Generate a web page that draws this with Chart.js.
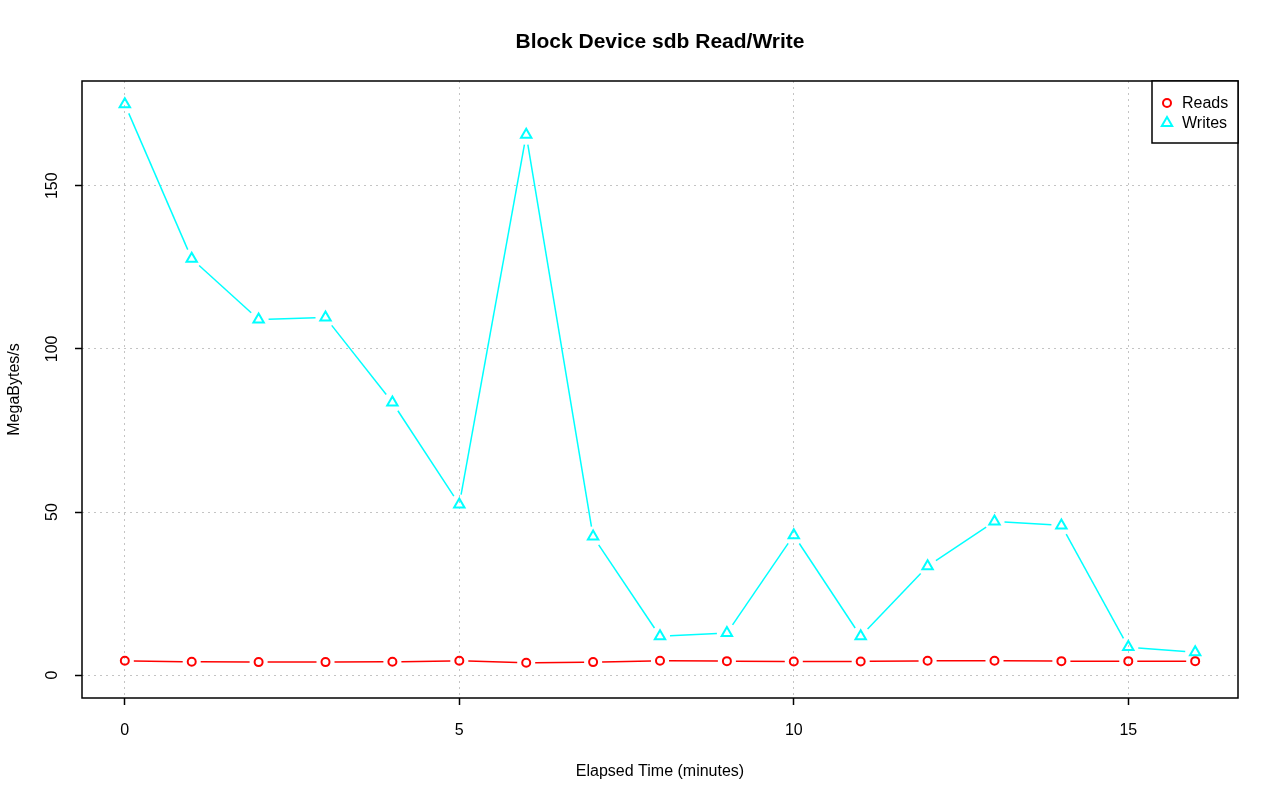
<!DOCTYPE html>
<html>
<head>
<meta charset="utf-8">
<title>Block Device sdb Read/Write</title>
<script src="https://cdn.jsdelivr.net/npm/chart.js@4/dist/chart.umd.min.js"></script>
<style>
    html, body { margin: 0; padding: 0; background: #fff; }
    #wrap { width: 1280px; height: 801px; }
</style>
</head>
<body>
<div id="wrap"><canvas id="ioChart"></canvas></div>
<script>
// elapsed minutes and MB/s
const minutes = [0, 1, 2, 3, 4, 5, 6, 7, 8, 9, 10, 11, 12, 13, 14, 15, 16];
const reads = [4.4, 4.1, 4.0, 4.0, 4.1, 4.4, 3.8, 4.0, 4.4, 4.3, 4.2, 4.2, 4.4, 4.4, 4.3, 4.3, 4.3];
const writes = [175.0, 127.6, 109.0, 109.6, 83.6, 52.3, 165.6, 42.5, 11.9, 12.9, 42.9, 11.9, 33.4, 47.1, 45.9, 8.6, 7.0];
const xTicks = [0, 5, 10, 15];
const yTicks = [0, 50, 100, 150];
const chartTitle = 'Block Device sdb Read/Write';

const FONT = "'Liberation Sans', Arial, Helvetica, sans-serif";

// R type="b": leave a gap in each segment next to the markers
function gapDash(ctx, gap) {
    const dx = ctx.p1.x - ctx.p0.x;
    const dy = ctx.p1.y - ctx.p0.y;
    const len = Math.sqrt(dx * dx + dy * dy);
    if (len <= gap * 2) return [0, len];
    return [0, gap, len - gap * 2, gap];
}

function toPoints(values) {
    return minutes.map((m, i) => ({ x: m, y: values[i] }));
}

// title centred over the plot, box round the plot, legend in the top right corner
const frameAndLegend = {
    id: 'frameAndLegend',
    afterDraw(chart) {
        const { ctx, chartArea: a } = chart;
        ctx.save();

        ctx.fillStyle = '#000';
        ctx.font = 'bold 21px ' + FONT;
        ctx.textAlign = 'center';
        ctx.textBaseline = 'middle';
        ctx.fillText(chartTitle, (a.left + a.right) / 2, 42);

        ctx.strokeStyle = '#000';
        ctx.lineWidth = 1.5;
        ctx.setLineDash([]);
        ctx.strokeRect(a.left, a.top, a.right - a.left, a.bottom - a.top);

        const boxW = 86, boxH = 62;
        const bx = a.right - boxW, by = a.top;
        ctx.fillStyle = '#fff';
        ctx.fillRect(bx, by, boxW, boxH);
        ctx.strokeRect(bx, by, boxW, boxH);

        ctx.font = '16px ' + FONT;
        ctx.textBaseline = 'middle';
        ctx.textAlign = 'left';
        chart.data.datasets.forEach((ds, i) => {
            const cy = by + 22 + i * 20;
            const cx = bx + 15;
            ctx.strokeStyle = ds.borderColor;
            ctx.lineWidth = 2;
            ctx.beginPath();
            if (ds.pointStyle === 'triangle') {
                const r = 6;
                ctx.moveTo(cx, cy - r);
                ctx.lineTo(cx + r * 0.866, cy + r * 0.5);
                ctx.lineTo(cx - r * 0.866, cy + r * 0.5);
                ctx.closePath();
            } else {
                ctx.arc(cx, cy, 4, 0, Math.PI * 2);
            }
            ctx.stroke();
            ctx.fillStyle = '#000';
            ctx.fillText(ds.label, bx + 30, cy + 1);
        });
        ctx.restore();
    }
};

const gridOpts = {
    color: '#c4c4c4',
    lineWidth: 1,
    tickLength: 7,
    tickColor: '#000',
    tickWidth: 1.5,
    tickBorderDash: []
};

new Chart(document.getElementById('ioChart'), {
    type: 'line',
    data: {
        datasets: [{
            label: 'Reads',
            data: toPoints(reads),
            borderColor: '#ff0000',
            backgroundColor: 'rgba(0,0,0,0)',
            borderWidth: 1.5,
            pointStyle: 'circle',
            pointRadius: 4,
            pointBorderWidth: 2,
            pointBackgroundColor: 'rgba(0,0,0,0)',
            segment: { borderDash: ctx => gapDash(ctx, 9) }
        }, {
            label: 'Writes',
            data: toPoints(writes),
            borderColor: '#00ffff',
            backgroundColor: 'rgba(0,0,0,0)',
            borderWidth: 1.5,
            pointStyle: 'triangle',
            pointRadius: 6,
            pointBorderWidth: 2,
            pointBackgroundColor: 'rgba(0,0,0,0)',
            segment: { borderDash: ctx => gapDash(ctx, 10) }
        }]
    },
    options: {
        responsive: true,
        maintainAspectRatio: false,
        animation: false,
        layout: { padding: { left: 0, right: 42, top: 81, bottom: 0 } },
        plugins: {
            legend: { display: false },
            tooltip: { enabled: false },
            title: { display: false }
        },
        scales: {
            x: {
                type: 'linear',
                min: -0.64,
                max: 16.64,
                afterBuildTicks: scale => { scale.ticks = xTicks.map(v => ({ value: v })); },
                afterFit: scale => { scale.height = 103; },
                border: { display: false, dash: [2, 4] },
                grid: gridOpts,
                ticks: {
                    color: '#000',
                    font: { family: FONT, size: 16 },
                    padding: 16,
                    maxRotation: 0
                },
                title: {
                    display: true,
                    text: 'Elapsed Time (minutes)',
                    color: '#000',
                    font: { family: FONT, size: 16 },
                    padding: { top: 0, bottom: 20 }
                }
            },
            y: {
                type: 'linear',
                min: -7,
                max: 182.1,
                afterBuildTicks: scale => { scale.ticks = yTicks.map(v => ({ value: v })); },
                afterFit: scale => { scale.width = 82; },
                border: { display: false, dash: [2, 4] },
                grid: gridOpts,
                ticks: {
                    color: '#000',
                    font: { family: FONT, size: 16 },
                    padding: 9,
                    minRotation: 90,
                    maxRotation: 90,
                    crossAlign: 'center'
                },
                title: {
                    display: true,
                    text: 'MegaBytes/s',
                    color: '#000',
                    font: { family: FONT, size: 16 },
                    padding: { top: 5, bottom: 0 }
                }
            }
        }
    },
    plugins: [frameAndLegend]
});
</script>
</body>
</html>
